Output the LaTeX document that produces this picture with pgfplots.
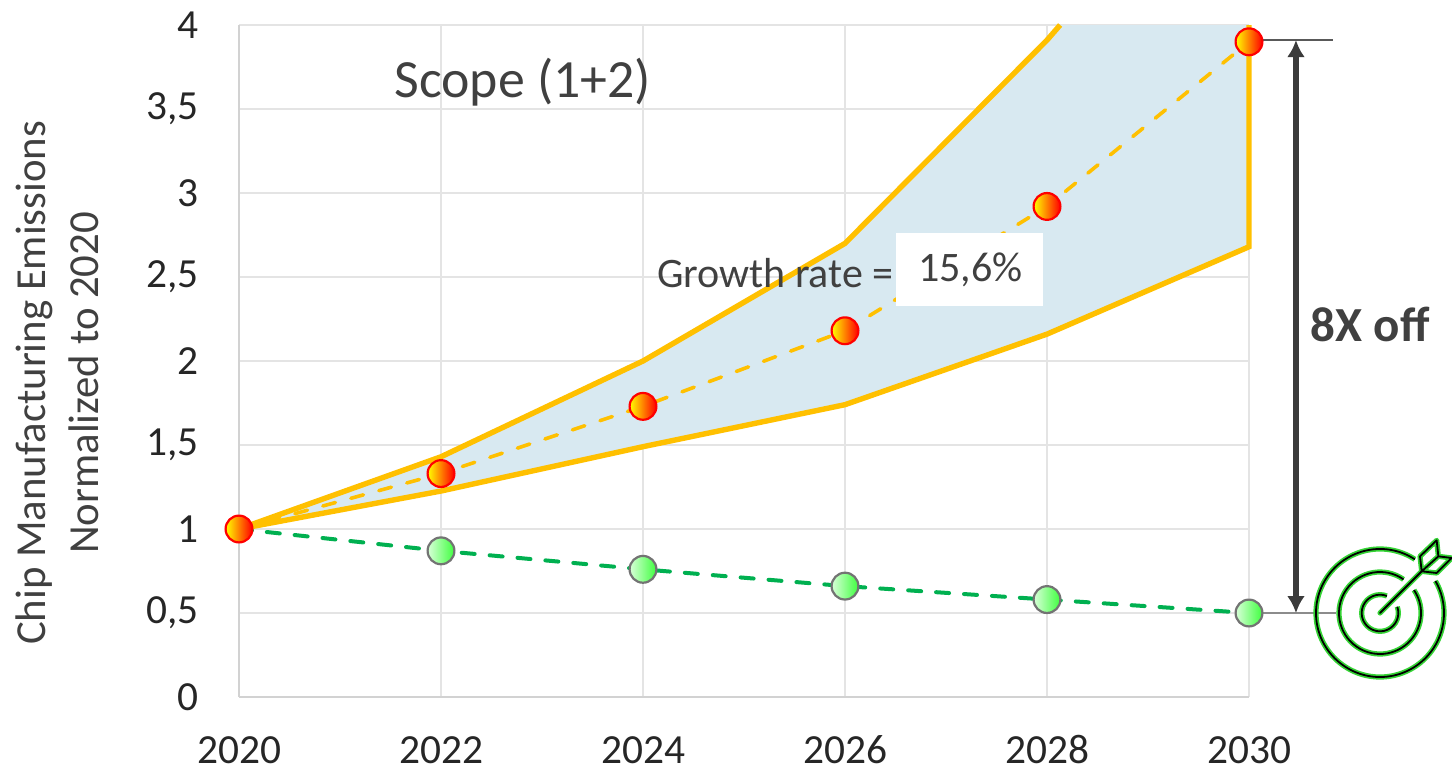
\documentclass[border=0pt]{standalone}
\usepackage{pgfplots}
\pgfplotsset{compat=1.18}
\usepackage{fontspec}
\setmainfont{Carlito}
\usetikzlibrary{arrows.meta}

\definecolor{amber}{HTML}{FFC000}
\definecolor{band}{HTML}{D8E9F1}
\definecolor{leaf}{HTML}{00B050}
\definecolor{gridgrey}{HTML}{E4E4E4}
\definecolor{axisgrey}{HTML}{D2D2D2}
\definecolor{ink}{HTML}{404040}
\definecolor{tickink}{HTML}{262626}
\definecolor{shaft}{HTML}{3B3B3B}
\definecolor{glow}{HTML}{35D435}

% round markers with a horizontal colour ramp, placed at the data points
\pgfplotsset{
  ball/.style={
    draw=none,
    mark=none,
    nodes near coords={},
    every node near coord/.style={
      circle,inner sep=0pt,minimum size=13.4pt,anchor=center,line width=1.1pt,#1
    },
  },
}

\begin{document}
\begin{tikzpicture}
\path[use as bounding box] (0,0) rectangle (726pt,384pt);
\begin{axis}[
  at={(119.5pt,35.5pt)},
  anchor=south west,
  scale only axis,
  width=505pt,
  height=336pt,
  xmin=2020, xmax=2030,
  ymin=0, ymax=4,
  clip=false,
  axis x line*=bottom,
  axis y line*=left,
  axis line style={axisgrey,line width=1pt,-},
  grid=major,
  grid style={gridgrey,line width=1pt},
  major tick length=0pt,
  xtick={2020,2022,2024,2026,2028,2030},
  xticklabels={2020,2022,2024,2026,2028,2030},
  ytick={0,0.5,1,1.5,2,2.5,3,3.5,4},
  yticklabels={0,{0,5},1,{1,5},2,{2,5},3,{3,5},4},
  tick label style={font=\fontsize{20.7pt}{24pt}\selectfont,text=tickink},
  xticklabel style={anchor=north,inner ysep=0pt,text height=13.5pt,text depth=0pt,yshift=-19.4pt},
  yticklabel style={xshift=-16.5pt},
]

% range between the low and high trajectories, cut at the top of the scale
\addplot[fill=band,draw=none] coordinates {
  (2020,1) (2022,1.43) (2024,2.0) (2026,2.70) (2028,3.91) (2028.13,4)
  (2030,4) (2030,2.68) (2028,2.16) (2026,1.74) (2024,1.49) (2022,1.226) (2020,1)
} -- cycle;

% high trajectory
\addplot[amber,line width=2.7pt,miter limit=20] coordinates {
  (2020,1) (2022,1.43) (2024,2.0) (2026,2.70) (2028,3.91) (2028.13,4)
};
% low trajectory, closed by the right-hand edge
\addplot[amber,line width=2.7pt,miter limit=20] coordinates {
  (2020,1) (2022,1.226) (2024,1.49) (2026,1.74) (2028,2.16) (2030,2.68) (2030,4)
};

% business-as-usual path
\addplot[amber,line width=1.8pt,line cap=round,dash pattern=on 6.5pt off 8pt] coordinates {
  (2020,1) (2022,1.33) (2024,1.73) (2026,2.18) (2028,2.92) (2030,3.9)
};
% target path
\addplot[leaf,line width=2pt,line cap=round,dash pattern=on 6.5pt off 7.5pt] coordinates {
  (2020,1) (2022,0.87) (2024,0.76) (2026,0.66) (2028,0.58) (2030,0.5)
};

\addplot[ball={left color=green!15!white,right color=green!75!white,draw=black!55}] coordinates {
  (2022,0.87) (2024,0.76) (2026,0.66) (2028,0.58) (2030,0.5)
};
\addplot[ball={left color=yellow,right color=red,draw=red}] coordinates {
  (2020,1) (2022,1.33) (2024,1.73) (2026,2.18) (2028,2.92) (2030,3.9)
};

% callout for the growth rate
\fill[white] (axis cs:2026.5,2.76) rectangle (axis cs:2027.96,2.33);
\node[anchor=center,font=\fontsize{21pt}{23pt}\selectfont,text=ink] at (axis cs:2025.31,2.525) {Growth rate =};
\node[anchor=center,font=\fontsize{21pt}{23pt}\selectfont,text=ink] at (axis cs:2027.24,2.54) {15,6\%};

\node[anchor=center,font=\fontsize{26.9pt}{30pt}\selectfont,text=ink] at (axis cs:2022.81,3.66) {Scope (1+2)};

% axis title, two rotated lines
\node[rotate=90,anchor=center,font=\fontsize{21.4pt}{24pt}\selectfont,text=ink] at (axis cs:2017.97,1.87) {Chip Manufacturing Emissions};
\node[rotate=90,anchor=center,font=\fontsize{21.4pt}{24pt}\selectfont,text=ink] at (axis cs:2018.46,1.87) {Normalized to 2020};

% distance between the two end points
\draw[black!65,line width=0.7pt] (axis cs:2030.03,3.91) -- (axis cs:2030.83,3.91);
\draw[black!45,line width=0.7pt] (axis cs:2030.07,0.5) -- (axis cs:2030.86,0.5);
\draw[shaft,line width=2.8pt,{Latex[length=8.5pt,width=9pt]}-{Latex[length=8.5pt,width=9pt]}]
  (axis cs:2030.465,3.91) -- (axis cs:2030.465,0.5);
\node[anchor=center,font=\bfseries\fontsize{24.5pt}{28pt}\selectfont,text=ink] at (axis cs:2031.2,2.22) {8X off};

\end{axis}

% target icon
\begin{scope}[shift={(690pt,77.5pt)},x=0.1667pt,y=0.1667pt]
  \foreach \c/\w in {glow/2.6pt,black/0.9pt}{
    \draw[\c,line width=\w] (57:192) arc[start angle=57,end angle=390,radius=192];
    \draw[\c,line width=\w] (55:123) arc[start angle=55,end angle=394,radius=123];
    \draw[\c,line width=\w] (68:55) arc[start angle=68,end angle=380,radius=55];
    \draw[\c,line width=\w,line join=round,line cap=round]
      (0,0) -- (125,125)
      (125,125) -- (120,170) -- (170,218) -- (175,170) -- cycle
      (125,125) -- (170,120) -- (215,165) -- (175,170);
  }
\end{scope}
\end{tikzpicture}
\end{document}
